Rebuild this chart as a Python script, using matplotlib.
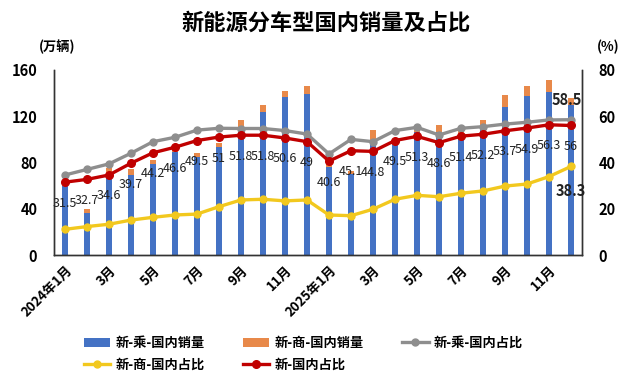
import matplotlib
matplotlib.use("Agg")
import matplotlib.pyplot as plt
import numpy as np

plt.rcParams['font.family'] = ['Noto Sans CJK SC', 'DejaVu Sans']

# months 2024-01 .. 2025-12
months = ['2024年1月', '2月', '3月', '4月', '5月', '6月', '7月', '8月', '9月', '10月', '11月', '12月',
          '2025年1月', '2月', '3月', '4月', '5月', '6月', '7月', '8月', '9月', '10月', '11月', '12月']

# sales (万辆)
cheng_sales = [60, 36.5, 71, 69, 79, 89, 84.5, 93, 111, 124, 137, 139.5,
               76, 70, 99.5, 95, 106, 106.5, 105, 111, 128, 137.5, 141, 130]
shang_sales = [3, 3, 4, 5, 3, 3, 4, 4, 6, 6, 5, 6.5,
               4, 3, 8.5, 5, 5, 6, 5, 6, 10, 8.5, 10, 6]

# shares (%)
cheng_share = [34.6, 37.0, 39.4, 44.0, 49.0, 50.9, 54.0, 54.8, 54.7, 54.7, 53.8, 52.3,
               43.7, 50.0, 49.0, 53.8, 55.2, 51.9, 54.8, 55.5, 56.6, 57.4, 58.4, 58.5]
shang_share = [11.1, 12.3, 13.3, 15.1, 16.3, 17.3, 17.7, 20.9, 23.8, 24.1, 23.4, 23.8,
               17.3, 17.0, 19.8, 24.1, 25.8, 25.2, 26.7, 27.7, 29.8, 30.7, 33.9, 38.3]
total_share = [31.5, 32.7, 34.6, 39.7, 44.2, 46.6, 49.5, 51, 51.8, 51.8, 50.6, 49,
               40.6, 45.1, 44.8, 49.5, 51.3, 48.6, 51.4, 52.2, 53.7, 54.9, 56.3, 56]

tick_pos = list(range(0, 24, 2))
tick_labels = [months[i] for i in tick_pos]

c_blue = '#4472C4'
c_orange = '#E8894A'
c_gray = '#8E8E8E'
c_yellow = '#F2C81E'
c_red = '#C00000'

fig = plt.figure(figsize=(6.3, 3.81), dpi=100)
ax = fig.add_axes([0.0857, 0.3307, 0.8381, 0.4856])
ax2 = ax.twinx()

x = np.arange(len(months))
b1 = ax.bar(x, cheng_sales, width=0.3, color=c_blue, label='新-乘-国内销量')
b2 = ax.bar(x, shang_sales, width=0.3, bottom=cheng_sales, color=c_orange, label='新-商-国内销量')

l1, = ax2.plot(x, cheng_share, color=c_gray, lw=2.4, marker='o', ms=5, label='新-乘-国内占比')
l2, = ax2.plot(x, shang_share, color=c_yellow, lw=2.4, marker='o', ms=5, label='新-商-国内占比')
l3, = ax2.plot(x, total_share, color=c_red, lw=2.4, marker='o', ms=5.5, label='新-国内占比')

for i, v in enumerate(total_share):
    ax2.annotate('{:g}'.format(v), (x[i], v), xytext=(0, -21), textcoords='offset pixels',
                 ha='center', va='center', fontsize=9, color='#222222')
ax2.annotate('{:g}'.format(cheng_share[-1]), (x[-1], cheng_share[-1]), xytext=(-4, 20),
             textcoords='offset pixels', ha='center', va='center', fontsize=10.5,
             fontweight='bold', color='#222222')
ax2.annotate('{:g}'.format(shang_share[-1]), (x[-1], shang_share[-1]), xytext=(0, -25),
             textcoords='offset pixels', ha='center', va='center', fontsize=10.5,
             fontweight='bold', color='#222222')

ax.set_xlim(-0.5, 23.5)
ax.set_ylim(0, 160)
ax2.set_ylim(0, 80)
ax.set_yticks([0, 40, 80, 120, 160])
ax2.set_yticks([0, 20, 40, 60, 80])
ax.set_xticks(tick_pos)
ax.set_xticklabels(tick_labels, rotation=45, ha='right', rotation_mode='anchor',
                   fontsize=9.5, fontweight='bold')
for lab in ax.get_yticklabels() + ax2.get_yticklabels():
    lab.set_fontsize(10.5)
    lab.set_fontweight('bold')
ax.tick_params(axis='y', length=0, pad=12)
ax.tick_params(axis='x', length=0, pad=6)
ax2.tick_params(axis='y', length=0, pad=12)

for a in (ax, ax2):
    a.spines['top'].set_visible(False)
    for s in ('left', 'right', 'bottom'):
        a.spines[s].set_color('#333333')
        a.spines[s].set_linewidth(1)

fig.text(0.518, 0.94, '新能源分车型国内销量及占比', ha='center', va='center',
         fontsize=16, fontweight='bold')
fig.text(0.09, 0.878, '(万辆)', ha='center', va='center', fontsize=9.5, fontweight='bold')
fig.text(0.965, 0.878, '(%)', ha='center', va='center', fontsize=9.5, fontweight='bold')

handles = [b1, l2, b2, l3, l1]
labels = [h.get_label() for h in handles]
fig.legend(handles, labels, ncol=3, loc='upper left', bbox_to_anchor=(0.133, 0.118),
           frameon=False, prop={'weight': 'bold', 'size': 9.5},
           handlelength=2.0, columnspacing=2.9, handletextpad=0.4, labelspacing=0.6,
           borderaxespad=0, borderpad=0)

fig.savefig('out.png', dpi=100)
